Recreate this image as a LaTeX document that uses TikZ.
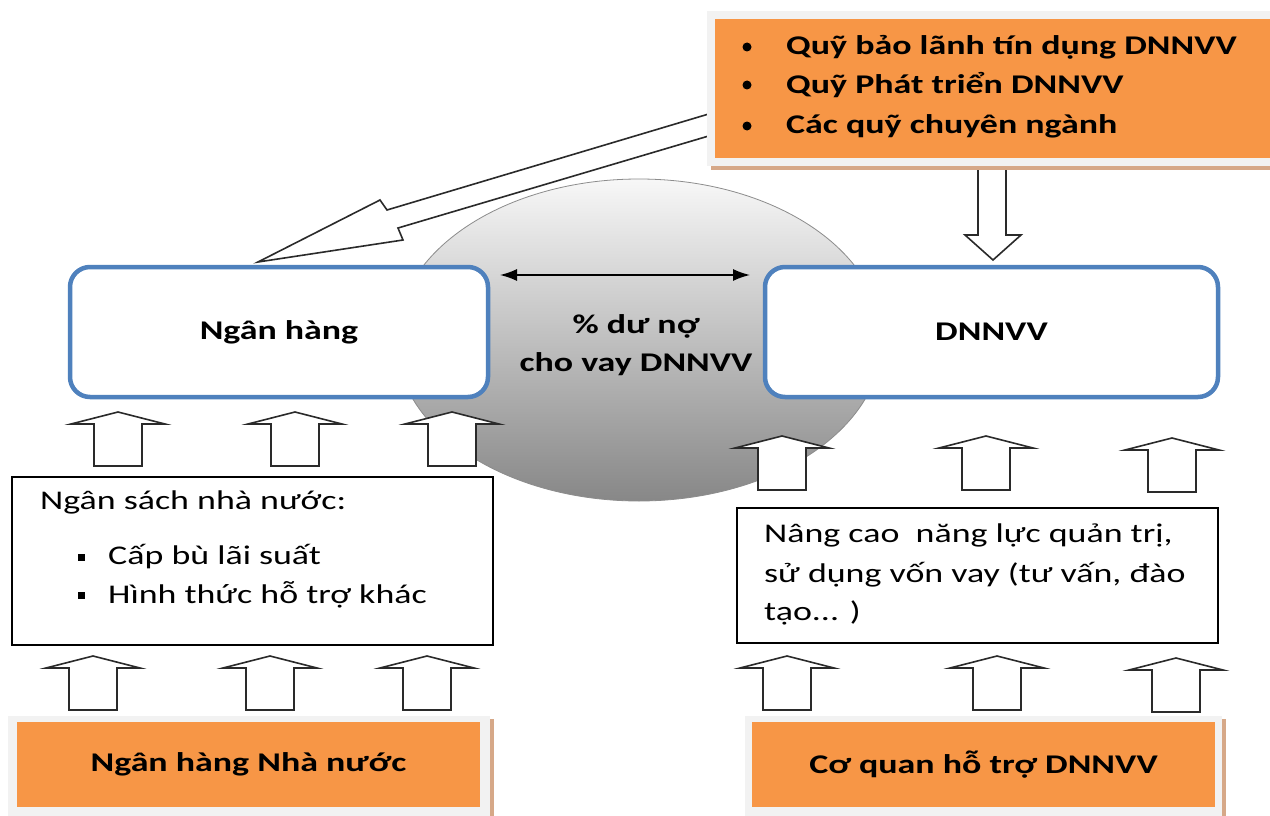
\documentclass[tikz,border=0pt]{standalone}
\usepackage{fontspec}
\setmainfont{Carlito}[FakeStretch=1.33]
\usetikzlibrary{arrows.meta,shapes.geometric}
\definecolor{nhblue}{HTML}{4F81BD}
\definecolor{qorange}{HTML}{F79646}
\definecolor{qframe}{HTML}{F2F2F2}
\definecolor{qshadow}{HTML}{D6A888}
\definecolor{arrline}{HTML}{2A2A2A}
\newcommand{\bodyfont}{\fontsize{27}{36}\selectfont}
\begin{document}
\begin{tikzpicture}[x=1pt,y=-1pt,
 arrowshape/.style={draw=arrline, line width=1.6pt, fill=white, line join=miter},
 roundbox/.style={draw=nhblue, line width=4.5pt, rounded corners=20pt, fill=white, inner sep=0pt, font=\bodyfont\bfseries},
 plainbox/.style={draw=black, line width=1.5pt, fill=white, inner sep=0pt},
 orangebox/.style={fill=qorange, inner sep=0pt, font=\bodyfont\bfseries},
 qframebox/.style={fill=qframe},
 qshadowbox/.style={fill=qshadow},
 txt/.style={inner sep=0pt, font=\bodyfont, anchor=west},
 btxt/.style={inner sep=0pt, font=\bodyfont\bfseries, anchor=west},
 ctxt/.style={inner sep=0pt, font=\bodyfont\bfseries},
 uparr/.pic={\path[arrowshape] (0,0) -- (47,12) -- (24,12) -- (24,54) -- (-24,54) -- (-24,12) -- (-47,12) -- cycle;}
]
\useasboundingbox (0,0) rectangle (1270,816);
\fill[white] (0,0) rectangle (1270,816);

% central shaded circle
\node[ellipse, minimum width=486pt, minimum height=322pt, draw=black!45, line width=0.8pt,
      top color=black!3, bottom color=black!47, inner sep=0pt] (circ) at (639,340) {};
\node[ctxt] (c1) at (636,326) {\% dư nợ};
\node[ctxt] (c2) at (636,364) {cho vay DNNVV};

% big diagonal block arrow (funds -> bank)
\path[arrowshape] (712,113) -- (387,210) -- (380,200) -- (258,262) -- (403,240) -- (398,228) -- (712,135) -- cycle;
% down block arrow (funds -> SME)
\path[arrowshape] (978,150) -- (978,235) -- (965,235) -- (993,260) -- (1021,235) -- (1006,235) -- (1006,150) -- cycle;

% top-right orange box
\fill[qshadow] (711,15) rectangle (1280,170);
\fill[qframe] (707,11) rectangle (1280,166);
\node[orangebox, minimum width=565pt, minimum height=139pt] (quy) at (997.5,88.5) {};
\fill (747,47) circle (4.5pt);
\fill (747,85) circle (4.5pt);
\fill (747,126) circle (4.5pt);
\node[btxt] (q1) at (786,47) {Quỹ bảo lãnh tín dụng DNNVV};
\node[btxt] (q2) at (786,85) {Quỹ Phát triển DNNVV};
\node[btxt] (q3) at (786,126) {Các quỹ chuyên ngành};

% bank and SME boxes
\node[roundbox, minimum width=418pt, minimum height=130pt] (nh) at (279,332) {Ngân hàng};
\node[roundbox, minimum width=453pt, minimum height=130pt] (dn) at (991.5,332) {DNNVV};

% double arrow
\coordinate (dl) at (500,275);
\coordinate (dr) at (750,275);
\draw[{Latex[length=17pt,width=12pt]}-{Latex[length=17pt,width=12pt]}, line width=1.5pt] (dl) -- (dr);

% up arrows left
\pic (la1) at (118,412) {uparr};
\pic (la2) at (295,412) {uparr};
\pic (la3) at (452,412) {uparr};
\pic (lb1) at (93,656) {uparr};
\pic (lb2) at (270,656) {uparr};
\pic (lb3) at (427,656) {uparr};
% up arrows right
\pic (ra1) at (782,436) {uparr};
\pic (ra2) at (986,436) {uparr};
\pic (ra3) at (1172,438) {uparr};
\pic (rb1) at (787,656) {uparr};
\pic (rb2) at (997,656) {uparr};
\pic (rb3) at (1176,658) {uparr};

% state budget box
\node[plainbox, minimum width=481pt, minimum height=168pt] (ns) at (252.5,561) {};
\node[txt] (ns0) at (40,502) {Ngân sách nhà nước:};
\fill (78,554) rectangle (85,561);
\fill (78,592) rectangle (85,599);
\node[txt] (ns1) at (108,557) {Cấp bù lãi suất};
\node[txt] (ns2) at (108,595) {Hình thức hỗ trợ khác};

% capacity box
\node[plainbox, minimum width=481pt, minimum height=135pt] (nc) at (977.5,575.5) {};
\node[txt] (nc1) at (764,535) {Nâng cao\ \ năng lực quản trị,};
\node[txt] (nc2) at (764,575) {sử dụng vốn vay (tư vấn, đào};
\node[txt] (nc3) at (764,613) {tạo... )};

% bottom orange boxes
\fill[qshadow] (11,719) rectangle (494,820);
\fill[qframe] (8,716) rectangle (490,820);
\node[orangebox, minimum width=463pt, minimum height=85pt] (nhnn) at (248.5,764.5) {Ngân hàng Nhà nước};
\fill[qshadow] (748,719) rectangle (1226,820);
\fill[qframe] (745,716) rectangle (1222,820);
\node[orangebox, minimum width=463pt, minimum height=85pt] (cq) at (983.5,764.5) {Cơ quan hỗ trợ DNNVV};
\end{tikzpicture}
\end{document}
